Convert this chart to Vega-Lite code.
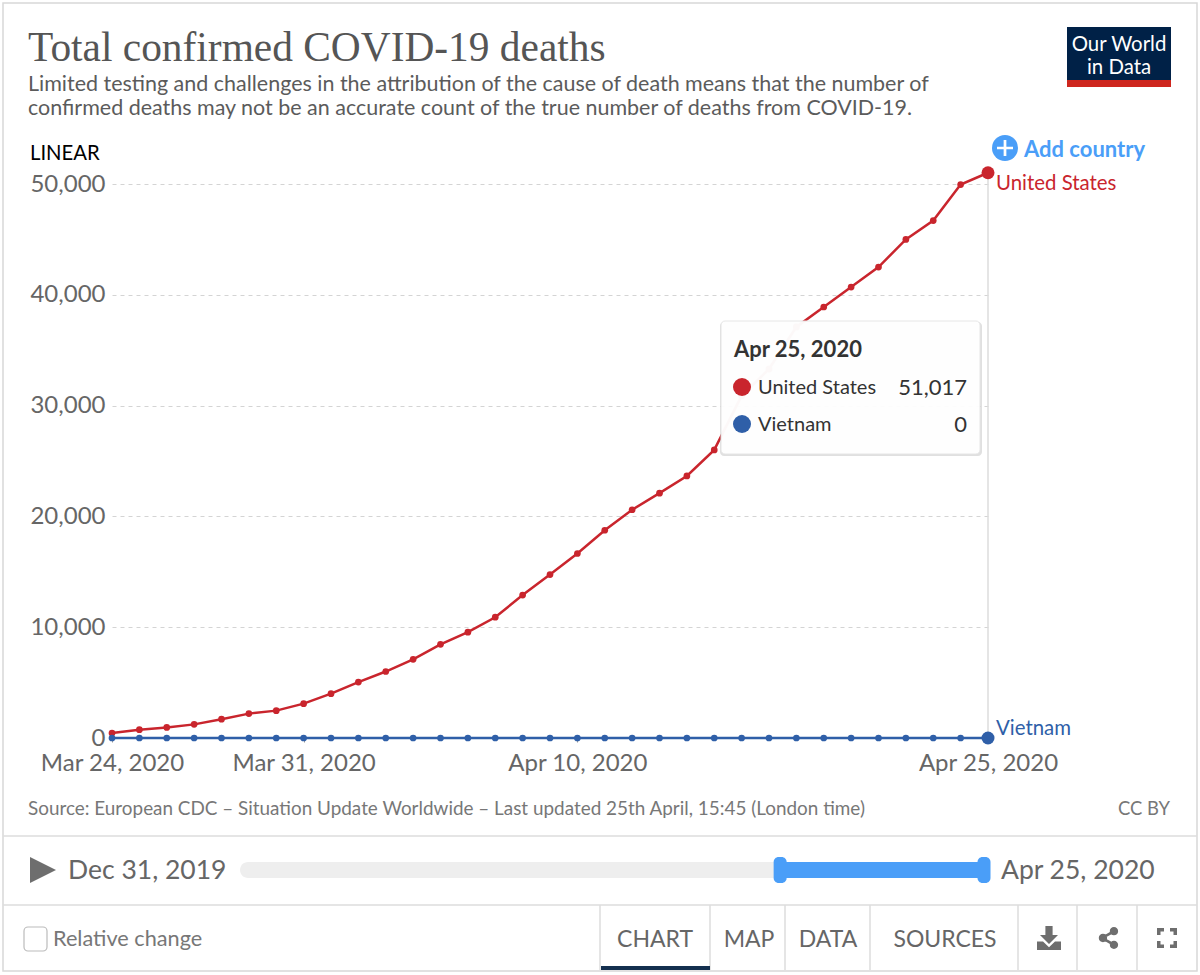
{"$schema":"https://vega.github.io/schema/vega-lite/v6.json","width":876,"height":554,"autosize":"none","padding":{"left":112,"top":184,"right":212,"bottom":237},"background":"#ffffff","config":{"view":{"stroke":null},"font":"Lato"},"title":{"text":"Total confirmed COVID-19 deaths","subtitle":["Limited testing and challenges in the attribution of the cause of death means that the number of","confirmed deaths may not be an accurate count of the true number of deaths from COVID-19."],"anchor":"start","frame":"group","dx":-84,"offset":-117,"font":"Liberation Serif","fontSize":41.4,"fontWeight":"normal","color":"#555555","subtitleFont":"Lato","subtitleFontSize":21.47,"subtitleColor":"#5b5b5b","subtitlePadding":4,"subtitleLineHeight":24},"datasets":{"series":[
{"date":"2020-03-24","country":"United States","deaths":450},{"date":"2020-03-25","country":"United States","deaths":750},{"date":"2020-03-26","country":"United States","deaths":950},{"date":"2020-03-27","country":"United States","deaths":1230},{"date":"2020-03-28","country":"United States","deaths":1700},{"date":"2020-03-29","country":"United States","deaths":2200},{"date":"2020-03-30","country":"United States","deaths":2470},{"date":"2020-03-31","country":"United States","deaths":3100},{"date":"2020-04-01","country":"United States","deaths":4000},{"date":"2020-04-02","country":"United States","deaths":5050},{"date":"2020-04-03","country":"United States","deaths":6000},{"date":"2020-04-04","country":"United States","deaths":7100},{"date":"2020-04-05","country":"United States","deaths":8450},{"date":"2020-04-06","country":"United States","deaths":9550},{"date":"2020-04-07","country":"United States","deaths":10900},{"date":"2020-04-08","country":"United States","deaths":12900},{"date":"2020-04-09","country":"United States","deaths":14750},{"date":"2020-04-10","country":"United States","deaths":16650},{"date":"2020-04-11","country":"United States","deaths":18750},{"date":"2020-04-12","country":"United States","deaths":20600},{"date":"2020-04-13","country":"United States","deaths":22100},{"date":"2020-04-14","country":"United States","deaths":23650},{"date":"2020-04-15","country":"United States","deaths":26000},{"date":"2020-04-16","country":"United States","deaths":30900},{"date":"2020-04-17","country":"United States","deaths":33300},{"date":"2020-04-18","country":"United States","deaths":37100},{"date":"2020-04-19","country":"United States","deaths":38900},{"date":"2020-04-20","country":"United States","deaths":40700},{"date":"2020-04-21","country":"United States","deaths":42500},{"date":"2020-04-22","country":"United States","deaths":45000},{"date":"2020-04-23","country":"United States","deaths":46700},{"date":"2020-04-24","country":"United States","deaths":49950},{"date":"2020-04-25","country":"United States","deaths":51017},
{"date":"2020-03-24","country":"Vietnam","deaths":0},{"date":"2020-03-25","country":"Vietnam","deaths":0},{"date":"2020-03-26","country":"Vietnam","deaths":0},{"date":"2020-03-27","country":"Vietnam","deaths":0},{"date":"2020-03-28","country":"Vietnam","deaths":0},{"date":"2020-03-29","country":"Vietnam","deaths":0},{"date":"2020-03-30","country":"Vietnam","deaths":0},{"date":"2020-03-31","country":"Vietnam","deaths":0},{"date":"2020-04-01","country":"Vietnam","deaths":0},{"date":"2020-04-02","country":"Vietnam","deaths":0},{"date":"2020-04-03","country":"Vietnam","deaths":0},{"date":"2020-04-04","country":"Vietnam","deaths":0},{"date":"2020-04-05","country":"Vietnam","deaths":0},{"date":"2020-04-06","country":"Vietnam","deaths":0},{"date":"2020-04-07","country":"Vietnam","deaths":0},{"date":"2020-04-08","country":"Vietnam","deaths":0},{"date":"2020-04-09","country":"Vietnam","deaths":0},{"date":"2020-04-10","country":"Vietnam","deaths":0},{"date":"2020-04-11","country":"Vietnam","deaths":0},{"date":"2020-04-12","country":"Vietnam","deaths":0},{"date":"2020-04-13","country":"Vietnam","deaths":0},{"date":"2020-04-14","country":"Vietnam","deaths":0},{"date":"2020-04-15","country":"Vietnam","deaths":0},{"date":"2020-04-16","country":"Vietnam","deaths":0},{"date":"2020-04-17","country":"Vietnam","deaths":0},{"date":"2020-04-18","country":"Vietnam","deaths":0},{"date":"2020-04-19","country":"Vietnam","deaths":0},{"date":"2020-04-20","country":"Vietnam","deaths":0},{"date":"2020-04-21","country":"Vietnam","deaths":0},{"date":"2020-04-22","country":"Vietnam","deaths":0},{"date":"2020-04-23","country":"Vietnam","deaths":0},{"date":"2020-04-24","country":"Vietnam","deaths":0},{"date":"2020-04-25","country":"Vietnam","deaths":0}],
"slider":[{"start":"2019-12-31","end":"2020-04-25"}],"range":[{"start":"2020-03-24","end":"2020-04-25"}],"handles":[{"date":"2020-03-24"},{"date":"2020-04-25"}]},
"resolve":{"scale":{"x":"independent","y":"independent"},"axis":{"x":"independent","y":"independent"}},
"layer":[
{"data":{"name":"series"},"encoding":{"x":{"field":"date","type":"temporal","title":null,"scale":{"type":"utc","domain":["2020-03-24","2020-04-25"],"nice":false},"axis":{"values":["2020-03-24","2020-03-31","2020-04-10","2020-04-25"],"format":"%b %d, %Y","labelFont":"Lato","labelFontSize":24,"labelColor":"#666666","labelPadding":9,"labelOverlap":false,"labelFlush":false,"domain":false,"ticks":true,"tickSize":4,"tickColor":"#999999","grid":false}},"y":{"field":"deaths","type":"quantitative","title":null,"scale":{"domain":[0,50000],"nice":false},"axis":{"values":[0,10000,20000,30000,40000,50000],"format":",d","labelFont":"Lato","labelFontSize":24,"labelColor":"#666666","labelPadding":7,"domain":false,"ticks":false,"grid":true,"gridColor":"#d4d4d4","gridDash":[4,4],"gridWidth":1}},"color":{"field":"country","type":"nominal","legend":null,"scale":{"domain":["United States","Vietnam"],"range":["#c9252d","#2f5fa8"]}}},
"layer":[
{"mark":{"type":"rule","color":"#dddddd","strokeWidth":1.5},"transform":[{"filter":"datum.country==='United States' && time(datum.date)===time('2020-04-25')"}],"encoding":{"color":{"value":"#dddddd"},"y2":{"datum":0}}},
{"mark":{"type":"line","strokeWidth":2.5,"interpolate":"linear"}},
{"mark":{"type":"point","filled":true,"opacity":1,"size":45}},
{"transform":[{"filter":"time(datum.date)===time('2020-04-25')"}],"mark":{"type":"point","filled":true,"opacity":1,"size":169}},
{"transform":[{"filter":"time(datum.date)===time('2020-04-25') && datum.country==='United States'"}],"mark":{"type":"text","align":"left","baseline":"middle","dx":8,"dy":11,"fontSize":20.4,"font":"Lato"},"encoding":{"text":{"field":"country"}}},
{"transform":[{"filter":"time(datum.date)===time('2020-04-25') && datum.country==='Vietnam'"}],"mark":{"type":"text","align":"left","baseline":"middle","dx":8,"dy":-9,"fontSize":20.4,"font":"Lato"},"encoding":{"text":{"field":"country"}}}
]},
{"data":{"name":"slider"},"mark":{"type":"rect","color":"#eeeeee","cornerRadius":8},"encoding":{"x":{"field":"start","type":"temporal","scale":{"type":"utc","domain":["2019-12-31","2020-04-25"],"range":[128,877],"nice":false},"axis":null},"x2":{"field":"end"},"y":{"datum":862,"scale":{"domain":[0,975],"range":[-184,791],"zero":false,"nice":false},"axis":null},"y2":{"datum":878}}},
{"data":{"name":"range"},"mark":{"type":"rect","color":"#4a9ef8"},"encoding":{"x":{"field":"start","type":"temporal","scale":{"type":"utc","domain":["2019-12-31","2020-04-25"],"range":[128,877],"nice":false},"axis":null},"x2":{"field":"end"},"y":{"datum":862,"scale":{"domain":[0,975],"range":[-184,791],"zero":false,"nice":false},"axis":null},"y2":{"datum":878}}},
{"data":{"name":"handles"},"mark":{"type":"bar","color":"#4a9ef8","size":13,"cornerRadius":5,"orient":"vertical"},"encoding":{"x":{"field":"date","type":"temporal","scale":{"type":"utc","domain":["2019-12-31","2020-04-25"],"range":[128,877],"nice":false},"axis":null},"y":{"datum":857,"scale":{"domain":[0,975],"range":[-184,791],"zero":false,"nice":false},"axis":null},"y2":{"datum":883}}},
{"data":{"values":[{"ui":1}]},"encoding":{"x":{"datum":0,"scale":{"domain":[0,1200],"range":[-112,1088],"zero":false,"nice":false},"axis":null},"y":{"datum":0,"scale":{"domain":[0,975],"range":[-184,791],"zero":false,"nice":false},"axis":null}},
"layer":[
{"mark":{"type":"rect","fill":null,"stroke":"#d8d8d8","strokeWidth":1.5},"encoding":{"x":{"datum":3},"x2":{"datum":1197},"y":{"datum":3},"y2":{"datum":971}}},
{"mark":{"type":"rule","color":"#dddddd","strokeWidth":1.5},"encoding":{"x":{"datum":3},"x2":{"datum":1197},"y":{"datum":836}}},
{"mark":{"type":"rule","color":"#dddddd","strokeWidth":1.5},"encoding":{"x":{"datum":3},"x2":{"datum":1197},"y":{"datum":905}}},
{"mark":{"type":"rule","color":"#dddddd","strokeWidth":1.5},"encoding":{"x":{"datum":600},"y":{"datum":905},"y2":{"datum":970}}},
{"mark":{"type":"rule","color":"#dddddd","strokeWidth":1.5},"encoding":{"x":{"datum":710},"y":{"datum":905},"y2":{"datum":970}}},
{"mark":{"type":"rule","color":"#dddddd","strokeWidth":1.5},"encoding":{"x":{"datum":785},"y":{"datum":905},"y2":{"datum":970}}},
{"mark":{"type":"rule","color":"#dddddd","strokeWidth":1.5},"encoding":{"x":{"datum":870},"y":{"datum":905},"y2":{"datum":970}}},
{"mark":{"type":"rule","color":"#dddddd","strokeWidth":1.5},"encoding":{"x":{"datum":1018},"y":{"datum":905},"y2":{"datum":970}}},
{"mark":{"type":"rule","color":"#dddddd","strokeWidth":1.5},"encoding":{"x":{"datum":1077},"y":{"datum":905},"y2":{"datum":970}}},
{"mark":{"type":"rule","color":"#dddddd","strokeWidth":1.5},"encoding":{"x":{"datum":1137},"y":{"datum":905},"y2":{"datum":970}}},
{"mark":{"type":"rect","color":"#14304f"},"encoding":{"x":{"datum":601},"x2":{"datum":710},"y":{"datum":966},"y2":{"datum":970}}},
{"mark":{"type":"rect","color":"#002147"},"encoding":{"x":{"datum":1067},"x2":{"datum":1171},"y":{"datum":27},"y2":{"datum":80}}},
{"mark":{"type":"rect","color":"#ce261e"},"encoding":{"x":{"datum":1067},"x2":{"datum":1171},"y":{"datum":80},"y2":{"datum":87}}},
{"mark":{"type":"rect","color":"#000000","opacity":0.12,"cornerRadius":4},"encoding":{"x":{"datum":720},"x2":{"datum":982},"y":{"datum":322},"y2":{"datum":456}}},
{"mark":{"type":"rect","color":"#ffffff","opacity":0.97,"stroke":"#e6e6e6","cornerRadius":4},"encoding":{"x":{"datum":721},"x2":{"datum":980},"y":{"datum":321},"y2":{"datum":454}}},
{"mark":{"type":"rect","fill":"#ffffff","stroke":"#bbbbbb","strokeWidth":1.2,"cornerRadius":4},"encoding":{"x":{"datum":24},"x2":{"datum":47},"y":{"datum":927},"y2":{"datum":951}}},
{"mark":{"type":"point","filled":true,"opacity":1,"shape":"circle","size":676,"color":"#4a9ef8"},"encoding":{"x":{"datum":1005},"y":{"datum":148}}},
{"mark":{"type":"point","filled":true,"opacity":1,"size":256,"color":"#ffffff","shape":"M-0.17 -1H0.17V-0.17H1V0.17H0.17V1H-0.17V0.17H-1V-0.17H-0.17Z"},"encoding":{"x":{"datum":1005},"y":{"datum":148}}},
{"mark":{"type":"point","filled":true,"opacity":1,"size":676,"color":"#6e6e6e","shape":"M-1 -1L1 0L-1 1Z"},"encoding":{"x":{"datum":43},"y":{"datum":870}}},
{"mark":{"type":"point","filled":true,"opacity":1,"size":576,"color":"#6e6e6e","shape":"M-0.3 -1H0.3V-0.25H0.75L0 0.5L-0.75 -0.25H-0.3Z M-1 0.3H-0.5L0 0.78L0.5 0.3H1V1H-1Z"},"encoding":{"x":{"datum":1049},"y":{"datum":938}}},
{"mark":{"type":"point","filled":true,"opacity":1,"size":484,"color":"#6e6e6e","shape":"M0.45 -1A0.38 0.38 0 1 1 0.45 -0.24A0.38 0.38 0 1 1 0.45 -1ZM-0.55 -0.38A0.38 0.38 0 1 1 -0.55 0.38A0.38 0.38 0 1 1 -0.55 -0.38ZM0.45 0.24A0.38 0.38 0 1 1 0.45 1A0.38 0.38 0 1 1 0.45 0.24ZM0.2 -0.62L0.35 -0.42L-0.4 0L0.35 0.42L0.2 0.62L-0.7 0.1V-0.1Z"},"encoding":{"x":{"datum":1109},"y":{"datum":938}}},
{"mark":{"type":"point","filled":true,"opacity":1,"size":400,"color":"#6e6e6e","shape":"M-1 -1H-0.3V-0.65H-0.65V-0.3H-1ZM0.3 -1H1V-0.3H0.65V-0.65H0.3ZM-1 0.3H-0.65V0.65H-0.3V1H-1ZM0.65 0.3H1V1H0.3V0.65H0.65Z"},"encoding":{"x":{"datum":1167},"y":{"datum":938}}},
{"mark":{"type":"point","filled":true,"opacity":1,"size":324,"color":"#c9252d"},"encoding":{"x":{"datum":742},"y":{"datum":387}}},
{"mark":{"type":"point","filled":true,"opacity":1,"size":324,"color":"#2f5fa8"},"encoding":{"x":{"datum":742},"y":{"datum":424}}},
{"mark":{"type":"text","align":"center","baseline":"middle","font":"Lato","fontSize":20.4,"color":"#ffffff"},"encoding":{"x":{"datum":1119},"y":{"datum":45},"text":{"value":"Our World"}}},
{"mark":{"type":"text","align":"center","baseline":"middle","font":"Lato","fontSize":20.4,"color":"#ffffff"},"encoding":{"x":{"datum":1119},"y":{"datum":68},"text":{"value":"in Data"}}},
{"mark":{"type":"text","align":"left","baseline":"middle","font":"Lato","fontSize":20.3,"color":"#000000"},"encoding":{"x":{"datum":30},"y":{"datum":154},"text":{"value":"LINEAR"}}},
{"mark":{"type":"text","align":"left","baseline":"middle","font":"Lato","fontSize":22,"fontWeight":"bold","color":"#4a9ef8"},"encoding":{"x":{"datum":1024},"y":{"datum":150},"text":{"value":"Add country"}}},
{"mark":{"type":"text","align":"left","baseline":"middle","font":"Lato","fontSize":22,"fontWeight":"bold","color":"#333333"},"encoding":{"x":{"datum":734},"y":{"datum":350},"text":{"value":"Apr 25, 2020"}}},
{"mark":{"type":"text","align":"left","baseline":"middle","font":"Lato","fontSize":20,"color":"#333333"},"encoding":{"x":{"datum":758},"y":{"datum":388},"text":{"value":"United States"}}},
{"mark":{"type":"text","align":"left","baseline":"middle","font":"Lato","fontSize":20,"color":"#333333"},"encoding":{"x":{"datum":758},"y":{"datum":425},"text":{"value":"Vietnam"}}},
{"data":{"name":"series"},"transform":[{"filter":"datum.country==='United States' && time(datum.date)===time('2020-04-25')"}],"mark":{"type":"text","align":"right","baseline":"middle","font":"Lato","fontSize":22,"color":"#333333"},"encoding":{"x":{"datum":967},"y":{"datum":388},"text":{"field":"deaths","type":"quantitative","format":",d"}}},
{"data":{"name":"series"},"transform":[{"filter":"datum.country==='Vietnam' && time(datum.date)===time('2020-04-25')"}],"mark":{"type":"text","align":"right","baseline":"middle","font":"Lato","fontSize":22,"color":"#333333"},"encoding":{"x":{"datum":967},"y":{"datum":425},"text":{"field":"deaths","type":"quantitative","format":",d"}}},
{"mark":{"type":"text","align":"left","baseline":"middle","font":"Lato","fontSize":18.9,"color":"#777777"},"encoding":{"x":{"datum":28},"y":{"datum":809},"text":{"value":"Source: European CDC – Situation Update Worldwide – Last updated 25th April, 15:45 (London time)"}}},
{"mark":{"type":"text","align":"right","baseline":"middle","font":"Lato","fontSize":18.4,"color":"#777777"},"encoding":{"x":{"datum":1170},"y":{"datum":809},"text":{"value":"CC BY"}}},
{"mark":{"type":"text","align":"left","baseline":"middle","font":"Lato","fontSize":21.7,"color":"#777777"},"encoding":{"x":{"datum":53},"y":{"datum":939},"text":{"value":"Relative change"}}},
{"mark":{"type":"text","align":"left","baseline":"middle","font":"Lato","fontSize":26.5,"color":"#666666"},"encoding":{"x":{"datum":68},"y":{"datum":871},"text":{"value":"Dec 31, 2019"}}},
{"mark":{"type":"text","align":"left","baseline":"middle","font":"Lato","fontSize":26.5,"color":"#666666"},"encoding":{"x":{"datum":1001},"y":{"datum":871},"text":{"value":"Apr 25, 2020"}}},
{"mark":{"type":"text","align":"center","baseline":"middle","font":"Lato","fontSize":23,"color":"#666666"},"encoding":{"x":{"datum":655},"y":{"datum":940},"text":{"value":"CHART"}}},
{"mark":{"type":"text","align":"center","baseline":"middle","font":"Lato","fontSize":23,"color":"#666666"},"encoding":{"x":{"datum":749},"y":{"datum":940},"text":{"value":"MAP"}}},
{"mark":{"type":"text","align":"center","baseline":"middle","font":"Lato","fontSize":23,"color":"#666666"},"encoding":{"x":{"datum":828},"y":{"datum":940},"text":{"value":"DATA"}}},
{"mark":{"type":"text","align":"center","baseline":"middle","font":"Lato","fontSize":23,"color":"#666666"},"encoding":{"x":{"datum":945},"y":{"datum":940},"text":{"value":"SOURCES"}}}
]}
]}
